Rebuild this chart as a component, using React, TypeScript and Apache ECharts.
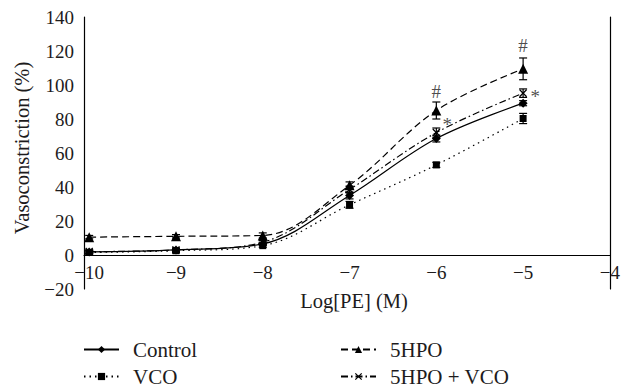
import { useEffect, useRef } from 'react';
import * as echarts from 'echarts';

// Log[PE] (M) concentrations
const xValues = [-10, -9, -8, -7, -6, -5];
// Vasoconstriction (%) means and error bars
const controlMean = [1.8, 3, 6.5, 35, 68.5, 89.3];
const controlErr = [1, 1, 1, 2, 2, 1.5];
const vcoMean = [1.5, 2.5, 5.5, 29.5, 53, 80.3];
const vcoErr = [1, 1, 1, 2, 1.5, 3];
const hpoMean = [10.5, 11, 11.5, 41, 85, 109.5];
const hpoErr = [1, 1, 1.5, 2, 5, 6.4];
const hpoVcoMean = [2, 3, 7.5, 38.5, 72, 95.2];
const hpoVcoErr = [1, 1, 1, 2, 2.7, 2.5];
// significance marks (data coordinates)
const marks = [
  { x: -6, y: 96, text: '#' },
  { x: -5, y: 123, text: '#' },
  { x: -5.875, y: 76.5, text: '*' },
  { x: -4.86, y: 93, text: '*' },
];
const yTicks = { min: -20, max: 140, step: 20 };

const FONT = 'Liberation Serif';
const INK = '#1d1b1c';
const fmt = (v: number) => (v < 0 ? '\u2212' : '') + Math.abs(v);

const X_SHAPE = 'path://M0,1.2L1.2,0L5,3.8L8.8,0L10,1.2L6.2,5L10,8.8L8.8,10L5,6.2L1.2,10L0,8.8L3.8,5Z';

const groups = [
  { name: 'Control', mean: controlMean, err: controlErr, symbol: 'diamond', size: 9, dash: 'solid' as any },
  { name: 'VCO', mean: vcoMean, err: vcoErr, symbol: 'rect', size: 7, dash: [1.5, 4] },
  { name: '5HPO', mean: hpoMean, err: hpoErr, symbol: 'triangle', size: 10, dash: [7, 4] },
  { name: '5HPO + VCO', mean: hpoVcoMean, err: hpoVcoErr, symbol: X_SHAPE, size: 8, dash: [7, 3, 1.5, 3] },
];

function buildOption() {
  const series: any[] = [];
  groups.forEach((g) => {
    series.push({
      type: 'custom',
      silent: true,
      z: 2,
      data: xValues.map((x, i) => [x, g.mean[i] - g.err[i], g.mean[i] + g.err[i]]),
      encode: { x: 0, y: [1, 2] },
      renderItem: (params: any, api: any) => {
        const x = api.value(0);
        const lo = api.coord([x, api.value(1)]);
        const hi = api.coord([x, api.value(2)]);
        const w = 4;
        const style = { stroke: '#000', lineWidth: 1.2 };
        return {
          type: 'group',
          children: [
            { type: 'line', shape: { x1: lo[0], y1: lo[1], x2: hi[0], y2: hi[1] }, style },
            { type: 'line', shape: { x1: hi[0] - w, y1: hi[1], x2: hi[0] + w, y2: hi[1] }, style },
            { type: 'line', shape: { x1: lo[0] - w, y1: lo[1], x2: lo[0] + w, y2: lo[1] }, style },
          ],
        };
      },
    });
    series.push({
      type: 'line',
      name: g.name,
      z: 3,
      smooth: 0.35,
      data: xValues.map((x, i) => [x, g.mean[i]]),
      symbol: g.symbol,
      symbolSize: g.size,
      lineStyle: { color: '#000', width: 1.2, type: g.dash },
      itemStyle: { color: '#000', borderColor: '#000', borderWidth: 0 },
    });
  });
  series.push({
    type: 'scatter',
    z: 4,
    symbolSize: 0,
    silent: true,
    data: marks.map((m) => ({
      value: [m.x, m.y],
      label: { show: true, position: 'inside', formatter: m.text, fontFamily: FONT, fontSize: 19, color: INK },
    })),
  });

  const legendBase = {
    orient: 'horizontal',
    padding: 0,
    itemWidth: 35,
    itemHeight: 9,
    textStyle: { fontFamily: FONT, fontSize: 21, color: INK, padding: [0, 0, 0, 9] },
  };

  return {
    animation: false,
    backgroundColor: '#fff',
    textStyle: { fontFamily: FONT },
    grid: { left: 84, right: 6, top: 17, bottom: 102 },
    xAxis: {
      type: 'value',
      min: -10.06,
      max: -4,
      splitNumber: 6,
      offset: -34,
      axisLine: { onZero: false, lineStyle: { color: '#000', width: 1.2 } },
      axisTick: { show: false },
      splitLine: { show: false },
      axisLabel: {
        margin: 8,
        fontFamily: FONT,
        fontSize: 19,
        color: INK,
        formatter: (v: number) => (Math.abs(v - Math.round(v)) < 1e-6 ? fmt(Math.round(v)) : ''),
      },
    },
    yAxis: [
      {
        type: 'value',
        min: yTicks.min,
        max: yTicks.max,
        interval: yTicks.step,
        axisLine: { show: true, onZero: false, lineStyle: { color: '#000', width: 1.2 } },
        axisTick: { show: false },
        splitLine: { show: false },
        axisLabel: { margin: 10, fontFamily: FONT, fontSize: 19, color: INK, formatter: fmt },
      },
      {
        type: 'value',
        position: 'right',
        min: yTicks.min,
        max: yTicks.max,
        interval: yTicks.step,
        axisLine: { show: true, onZero: false, lineStyle: { color: '#000', width: 1.2 } },
        axisTick: { show: false },
        splitLine: { show: false },
        axisLabel: { show: false },
      },
    ],
    legend: [
      { ...legendBase, data: ['Control'], left: 83, top: 339 },
      { ...legendBase, data: ['VCO'], left: 83, top: 366 },
      { ...legendBase, data: ['5HPO'], left: 340, top: 339 },
      { ...legendBase, data: ['5HPO + VCO'], left: 340, top: 366 },
    ],
    graphic: [
      {
        type: 'text',
        x: 22,
        y: 148,
        rotation: Math.PI / 2,
        style: { text: 'Vasoconstriction (%)', fontFamily: FONT, fontSize: 20.5, fill: INK, textAlign: 'center', textVerticalAlign: 'middle' },
      },
      {
        type: 'text',
        x: 354,
        y: 301,
        style: { text: 'Log[PE] (M)', fontFamily: FONT, fontSize: 20.5, fill: INK, textAlign: 'center', textVerticalAlign: 'middle' },
      },
    ],
    series,
  };
}

export default function App() {
  const ref = useRef<HTMLDivElement>(null);
  useEffect(() => {
    const chart = echarts.init(ref.current!, null, { renderer: 'svg' });
    chart.setOption(buildOption() as any);
    return () => chart.dispose();
  }, []);
  return <div ref={ref} style={{ position: 'fixed', left: 0, top: 0, width: 623, height: 391 }} />;
}
